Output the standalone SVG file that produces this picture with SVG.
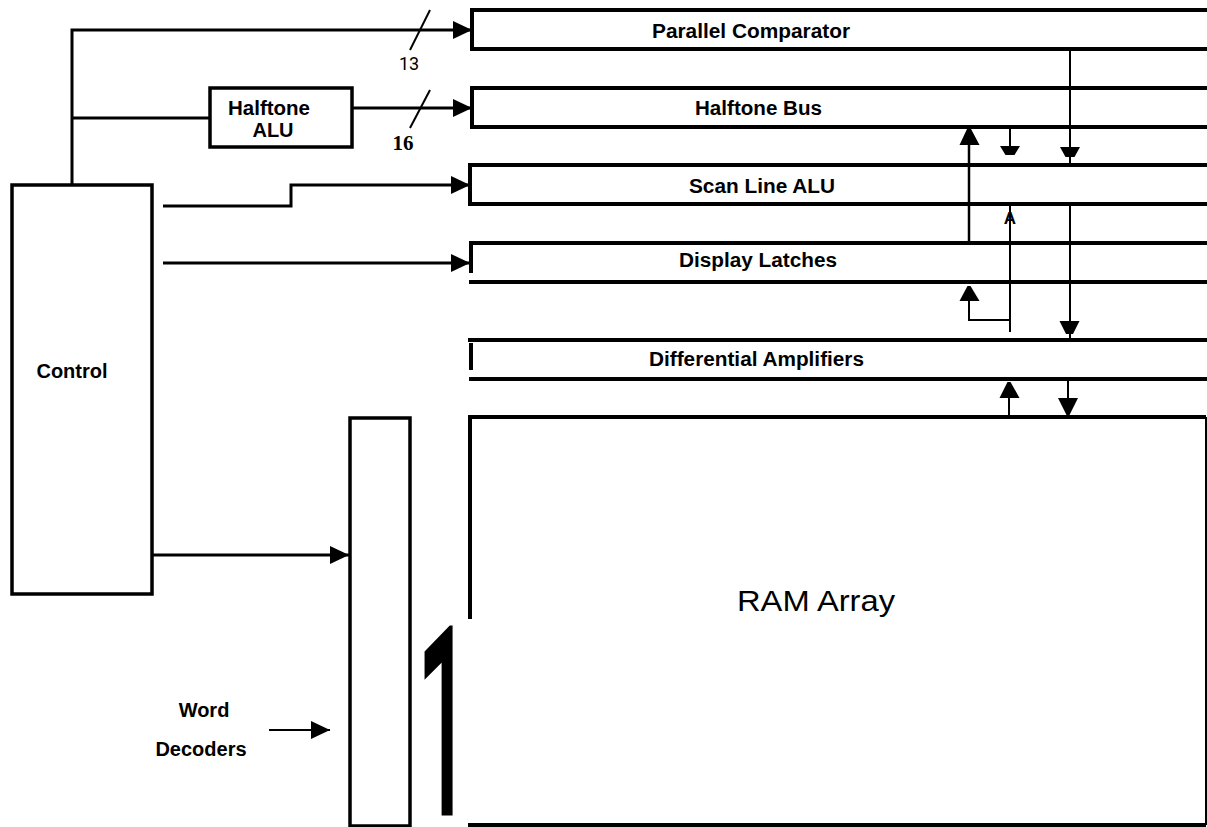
<svg xmlns="http://www.w3.org/2000/svg" width="1207" height="827" viewBox="0 0 1207 827">
  <defs>
    <style>
      .edge { fill: none; stroke: #000; stroke-width: 4; }
      .box { fill: none; stroke: #000; stroke-width: 3.5; }
      .wire { fill: none; stroke: #000; stroke-width: 3; }
      .thin { fill: none; stroke: #000; stroke-width: 2; }
      .head { fill: #000; stroke: none; }
      .lbl { font-family: "Liberation Sans", Arial, sans-serif; font-weight: bold; font-size: 20px; fill: #000; }
      .num { font-family: Roboto, "Noto Sans", sans-serif; font-weight: normal; font-size: 18px; fill: #000; }
      .numb { font-family: "Liberation Serif", "Times New Roman", serif; font-weight: bold; font-size: 21px; fill: #000; }
      .big { font-family: "Liberation Sans", Arial, sans-serif; font-size: 30px; fill: #000; }
      .one { font-family: Roboto, "Noto Sans", sans-serif; font-weight: normal; font-size: 260px; fill: #000; stroke: #000; stroke-width: 7; stroke-linejoin: miter; }
    </style>
    <marker id="arr" markerUnits="userSpaceOnUse" markerWidth="20" markerHeight="18" refX="19" refY="9" orient="auto">
      <path d="M0,0 L19,9 L0,18 Z" fill="#000"/>
    </marker>
  </defs>

  <rect width="1207" height="827" fill="#fff"/>

  <!-- Control block -->
  <g id="control">
    <rect class="box" x="12" y="185" width="140" height="409"/>
    <text class="lbl" x="72" y="378" text-anchor="middle">Control</text>
  </g>

  <!-- Halftone ALU -->
  <g id="halftone-alu">
    <rect class="box" x="210" y="88" width="142" height="59"/>
    <text class="lbl" x="269" y="115" text-anchor="middle" textLength="82" lengthAdjust="spacingAndGlyphs">Halftone</text>
    <text class="lbl" x="273" y="137" text-anchor="middle">ALU</text>
  </g>

  <!-- Horizontal bus bars -->
  <g id="parallel-comparator">
    <path class="edge" d="M472,10 H1207 M472,49 H1207 M472,8 V51"/>
    <text class="lbl" x="652" y="38" textLength="198" lengthAdjust="spacingAndGlyphs">Parallel  Comparator</text>
  </g>
  <g id="halftone-bus">
    <path class="edge" d="M472,88 H1207 M472,127 H1207 M472,86 V129"/>
    <text class="lbl" x="695" y="115" textLength="127" lengthAdjust="spacingAndGlyphs">Halftone Bus</text>
  </g>
  <g id="scan-line-alu">
    <path class="edge" d="M470,165 H1207 M470,204 H1207 M470,163 V206"/>
    <text class="lbl" x="689" y="193" textLength="146" lengthAdjust="spacingAndGlyphs">Scan Line ALU</text>
  </g>
  <g id="display-latches">
    <path class="edge" d="M471,243 H1207 M469,282 H1207 M471,241 V273"/>
    <text class="lbl" x="679" y="267" textLength="158" lengthAdjust="spacingAndGlyphs">Display  Latches</text>
  </g>
  <g id="differential-amplifiers">
    <path class="edge" d="M468,340 H1207 M469,379 H1207 M471,343 V370"/>
    <text class="lbl" x="649" y="366" textLength="215" lengthAdjust="spacingAndGlyphs">Differential  Amplifiers</text>
  </g>

  <!-- RAM array -->
  <g id="ram-array">
    <path class="edge" d="M470,417 H1206 M470,415 V619 M468,825 H1206"/>
    <path class="thin" d="M1206,417 V825"/>
    <text class="big" x="737" y="611" textLength="158" lengthAdjust="spacingAndGlyphs">RAM  Array</text>
  </g>

  <!-- Word decoders -->
  <g id="word-decoders">
    <rect class="box" x="350" y="418" width="60" height="408"/>
    <text class="lbl" x="204" y="717" text-anchor="middle">Word</text>
    <text class="lbl" x="201" y="756" text-anchor="middle">Decoders</text>
    <text class="one" transform="translate(418,812) scale(0.36,0.985)">1</text>
  </g>

  <!-- Connectors -->
  <g id="connectors">
    <!-- control trunk to comparator and halftone ALU -->
    <path class="wire" d="M72,185 V30 H472" marker-end="url(#arr)"/>
    <path class="wire" d="M72,118 H210"/>
    <path class="wire" d="M352,108 H472" marker-end="url(#arr)"/>
    <!-- bus width marks -->
    <path class="thin" d="M430,10 L410,50"/>
    <text class="num" x="409" y="70" text-anchor="middle">13</text>
    <path class="thin" d="M430,90 L410,128"/>
    <text class="numb" x="403" y="150" text-anchor="middle">16</text>
    <!-- control to scan line ALU and display latches -->
    <path class="wire" d="M163,206 H291 V185 H470" marker-end="url(#arr)"/>
    <path class="wire" d="M163,263 H470" marker-end="url(#arr)"/>
    <!-- control to word decoders -->
    <path class="wire" d="M152,555 H349" marker-end="url(#arr)"/>
    <path class="thin" d="M269,730 H330" marker-end="url(#arr)"/>

    <!-- vertical data paths between bars -->
    <path class="thin" d="M1070,49 V165"/>
    <polygon class="head" points="1060,147 1080,147 1074.5,157 1065.5,157"/>
    <path class="thin" d="M1010,128 V148"/>
    <polygon class="head" points="1000,146 1020,146 1014.5,155 1005.5,155"/>
    <path class="thin" d="M969,144 V243" style="stroke-width:2.5"/>
    <polygon class="head" points="967.5,128 970.5,128 979.5,145 959.5,145"/>

    <text class="lbl" x="1010" y="224" text-anchor="middle" style="font-size:17px">A</text>
    <path class="thin" d="M1010,206 V332"/>
    <path class="thin" d="M1070,204 V340"/>
    <polygon class="head" points="1059.5,321 1079.5,321 1073,334 1066,334"/>
    <path class="thin" d="M969,300 V320 H1010"/>
    <polygon class="head" points="967.5,286 970.5,286 979.5,301 959.5,301"/>

    <path class="thin" d="M1009,397 V417"/>
    <polygon class="head" points="1007.5,382 1010.5,382 1019.5,398 999.5,398"/>
    <path class="thin" d="M1068,379 V400"/>
    <polygon class="head" points="1058,398 1078,398 1069.5,415 1066.5,415"/>
  </g>
</svg>
